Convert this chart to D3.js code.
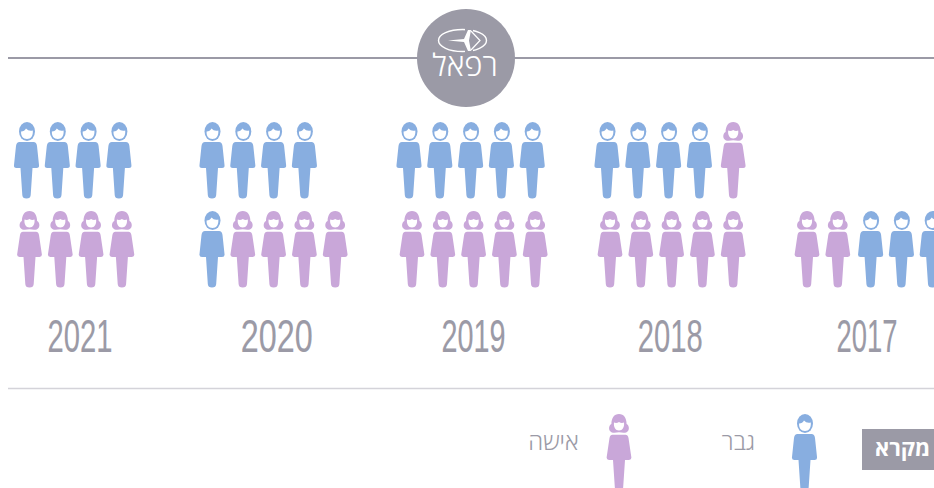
<!DOCTYPE html>
<html lang="he">
<head>
<meta charset="utf-8">
<title>רפאל</title>
<script src="https://cdn.jsdelivr.net/npm/d3@7"></script>
<style>
    html, body { margin: 0; padding: 0; background: #fff; overflow: hidden; }
    svg { display: block; }
    .year { font-family: "Liberation Sans Narrow", "Liberation Sans", sans-serif; fill: #9b9aa6; stroke: #9b9aa6; stroke-width: 0.15; }
    .legend-label { font-family: "Open Sans", "Liberation Sans", sans-serif; font-weight: 300; fill: #9b9aa6; direction: rtl; }
</style>
</head>
<body>
<svg id="chart"></svg>
<script>
// m = gever, w = isha
const years = [2021, 2020, 2019, 2018, 2017];
const topRows = [
    ['m', 'm', 'm', 'm'],
    ['m', 'm', 'm', 'm'],
    ['m', 'm', 'm', 'm', 'm'],
    ['m', 'm', 'm', 'm', 'w'],
    []
];
const bottomRows = [
    ['w', 'w', 'w', 'w'],
    ['m', 'w', 'w', 'w', 'w'],
    ['w', 'w', 'w', 'w', 'w'],
    ['w', 'w', 'w', 'w', 'w'],
    ['w', 'w', 'm', 'm', 'm']
];
const legendKeys = ['m', 'w'];
const legendLabels = ['גבר', 'אישה'];

const width = 934;
const height = 488;
const grey = '#9b9aa6';

const color = d3.scaleOrdinal().domain(['m', 'w']).range(['#88aee0', '#c9a7d9']);

// the icons are not quite centred on the year labels, so each gender has its own start
const manStart = d3.scaleOrdinal().domain(years).range([26.5, 212, 409, 607, 809]);
const womanStart = d3.scaleOrdinal().domain(years).range([29.5, 212, 412, 610, 807]);
const column = d3.scaleLinear().domain([0, 4]).range([0, 123.2]);
const rowY = d3.scalePoint().domain(['top', 'bottom']).range([122, 211]);
const yearX = d3.scalePoint().domain(years).range([80, 867]);
const yearWidth = d3.scaleOrdinal().domain(years).range([65, 72, 64, 65, 61]);
const legendX = d3.scaleOrdinal().domain(legendKeys).range([804.5, 619]);
const legendTextX = d3.scaleOrdinal().domain(legendKeys).range([738.5, 553.5]);

const svg = d3.select('#chart')
    .attr('width', width)
    .attr('height', height)
    .attr('viewBox', `0 0 ${width} ${height}`);

const defs = svg.append('defs');

// man, drawn around x=0 with the top of the head at y=0
const man = defs.append('g').attr('id', 'icon-m');
man.append('path')
    .attr('d', 'M-7,20 Q-10,20 -10.5,24 L-12.5,43 Q-13,46 -10,46 L-6,46 L-4.2,73 Q-4,76.5 0,76.5 Q4,76.5 4.2,73 L6,46 L10,46 Q13,46 12.5,43 L10.5,24 Q10,20 7,20 Z');
man.append('ellipse').attr('cx', 0.5).attr('cy', 9.5).attr('rx', 8).attr('ry', 9.5);
man.append('path')
    .attr('fill', '#fff')
    .attr('d', 'M-5.4,9.5 Q-2,9.5 -0.5,6.5 Q2,9.5 6.3,8.5 C6.8,13.5 4.5,17 0.5,17 C-3.5,17 -5.8,14 -5.4,9.5 Z');

// woman, same origin
const woman = defs.append('g').attr('id', 'icon-w');
woman.append('path')
    .attr('d', 'M-6.5,20.7 Q-8.8,20.7 -9.5,24 L-12.3,43 Q-12.8,46 -10,46 L-6,46 L-4.2,73 Q-4,76.5 0,76.5 Q4,76.5 4.2,73 L6,46 L10,46 Q12.8,46 12.3,43 L9.5,24 Q8.8,20.7 6.5,20.7 Z');
woman.append('path')
    .attr('d', 'M0,0 C5,0 7.5,4 7.6,10 C10,11 10.6,15 9,17 C7.5,19.3 4,19 0,18.3 C-4,19 -7.5,19.3 -9,17 C-10.6,15 -10,11 -7.6,10 C-7.5,4 -5,0 0,0 Z');
woman.append('path')
    .attr('fill', '#fff')
    .attr('d', 'M-5,8.5 Q-2.5,9.5 0,8 Q2.5,9.5 5,8.5 C5.6,13 3.5,16.5 0,16.5 C-3.5,16.5 -5.6,13 -5,8.5 Z');

// header rule + logo
svg.append('line')
    .attr('x1', 8).attr('x2', width)
    .attr('y1', 58).attr('y2', 58)
    .attr('stroke', grey)
    .attr('stroke-width', 2);

const logo = svg.append('g').attr('transform', 'translate(466,58)');
logo.append('circle').attr('r', 49).attr('fill', grey);
logo.append('ellipse')
    .attr('cx', -3.5).attr('cy', -17.5).attr('rx', 24).attr('ry', 11)
    .attr('fill', 'none').attr('stroke', '#fff').attr('stroke-width', 1.4);
// gap in the ring around the plane
logo.append('rect')
    .attr('x', -1).attr('y', -30).attr('width', 8).attr('height', 25)
    .attr('fill', grey);
logo.append('path')
    .attr('fill', '#fff')
    .attr('d', 'M-18,-17.5 L-2,-19 L2,-28 L5,-28 L3,-17.5 L5,-7 L2,-7 L-2,-16 Z');
logo.append('path')
    .attr('fill', 'none')
    .attr('stroke', '#fff')
    .attr('stroke-width', 1.2)
    .attr('d', 'M5,-27 L14,-17.5 L5,-8');
logo.append('text')
    .attr('x', -1).attr('y', 18)
    .attr('text-anchor', 'middle')
    .attr('direction', 'rtl')
    .attr('font-family', '"Open Sans", "DejaVu Sans", sans-serif')
    .attr('font-weight', 300)
    .attr('font-size', 31)
    .attr('fill', '#fff')
    .text('רפאל');

// people rows
const groups = svg.selectAll('.year-group')
    .data(years.map((y, i) => ({year: y, top: topRows[i], bottom: bottomRows[i]})))
    .join('g')
    .attr('class', 'year-group');

function iconX(year, key, i) {
    return (key === 'm' ? manStart(year) : womanStart(year)) + column(i);
}

['top', 'bottom'].forEach(row => {
    groups.selectAll(`.icon-${row}`)
        .data(d => d[row].map((key, i) => ({key, i, year: d.year})))
        .join('use')
        .attr('class', `icon-${row}`)
        .attr('href', d => `#icon-${d.key}`)
        .attr('fill', d => color(d.key))
        .attr('transform', d => `translate(${iconX(d.year, d.key, d.i)},${rowY(row)})`);
});

// no condensed face here, so squeeze the narrow one down to the measured label width
groups.append('text')
    .attr('class', 'year')
    .attr('text-anchor', 'middle')
    .attr('font-size', 46)
    .text(d => d.year)
    .attr('transform', function(d) {
        const sx = yearWidth(d.year) / this.getComputedTextLength();
        return `translate(${yearX(d.year)},352) scale(${sx},1)`;
    });

// legend
svg.append('line')
    .attr('x1', 8).attr('x2', width)
    .attr('y1', 388.5).attr('y2', 388.5)
    .attr('stroke', '#d4d3d9')
    .attr('stroke-width', 1.5);

svg.append('rect')
    .attr('x', 862).attr('y', 429)
    .attr('width', 72).attr('height', 41)
    .attr('fill', grey);

svg.append('text')
    .attr('x', 902.5).attr('y', 456)
    .attr('text-anchor', 'middle')
    .attr('direction', 'rtl')
    .attr('font-family', '"Open Sans", "DejaVu Sans", sans-serif')
    .attr('font-weight', 700)
    .attr('font-size', 22)
    .attr('fill', '#fff')
    .text('מקרא');

legendKeys.forEach((key, i) => {
    svg.append('use')
        .attr('href', `#icon-${key}`)
        .attr('fill', color(key))
        .attr('transform', `translate(${legendX(key)},414)`);

    svg.append('text')
        .attr('class', 'legend-label')
        .attr('x', legendTextX(key))
        .attr('y', 450)
        .attr('text-anchor', 'middle')
        .attr('font-size', 24)
        .text(legendLabels[i]);
});
</script>
</body>
</html>
